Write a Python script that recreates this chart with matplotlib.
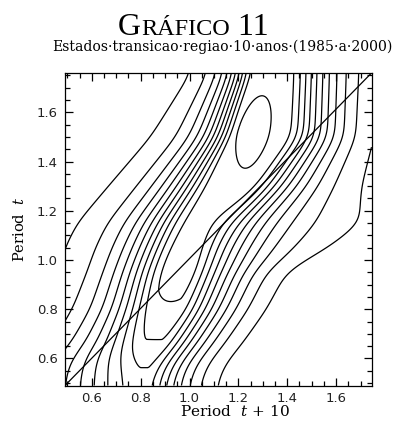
import numpy as np
import matplotlib
matplotlib.use("Agg")
import matplotlib.pyplot as plt
from matplotlib.ticker import MultipleLocator

plt.rcParams['mathtext.fontset'] = 'dejavuserif'

# density ridge, described by rows of "Period t"
ridge_y = [0.45, 0.574, 0.663, 0.80, 0.95, 1.05, 1.15, 1.30, 1.50, 1.80]
ridge_left = [0.79, 0.80, 0.82, 0.855, 0.89, 0.93, 0.98, 1.08, 1.19, 1.28]
ridge_right = [0.80, 0.83, 0.88, 0.95, 1.00, 1.03, 1.08, 1.24, 1.39, 1.41]
ridge_height = [8.4, 9.0, 9.95, 10.55, 10.6, 10.65, 10.85, 11.2, 11.45, 11.3]
shoulder_left = [0.32, 0.28, 0.21, 0.17, 0.16, 0.16, 0.16, 0.15, 0.12, 0.10]
shoulder_right = [0.15, 0.155, 0.165, 0.18, 0.20, 0.21, 0.215, 0.19, 0.17, 0.157]
base_left = [0.35, 0.35, 0.35, 0.33, 0.30, 0.31, 0.31, 0.29, 0.25, 0.17]
base_right = [0.18, 0.19, 0.20, 0.21, 0.22, 0.37, 0.44, 0.31, 0.22, 0.24]
base_height = 2.5

# local peaks on top of the ridge
peak_x = [0.975, 1.26]
peak_y = [0.97, 1.51]
peak_major = [0.13, 0.17]
peak_minor = [0.065, 0.06]
peak_angle = [62, 75]
peak_height = [0.9, 1.0]

levels = np.arange(1, 13)
xlim = (0.49, 1.745)
ylim = (0.49, 1.76)

gx = np.linspace(xlim[0], xlim[1], 260)
gy = np.linspace(ylim[0], ylim[1], 260)
X, Y = np.meshgrid(gx, gy)

# smooth the row profiles so the contours have no corners at the rows given above
kern = np.exp(-0.5 * (np.arange(-25, 26) * (gy[1] - gy[0]) / 0.035) ** 2)
kern /= kern.sum()


def by_row(vals):
    col = np.interp(gy, ridge_y, vals)
    col = np.convolve(np.pad(col, 25, mode='edge'), kern, mode='valid')
    return col[:, None] * np.ones_like(X)


a = by_row(ridge_left)
b = by_row(ridge_right)
left = X < a
d = np.clip(a - X, 0, None) + np.clip(X - b, 0, None)
s = np.where(left, by_row(shoulder_left), by_row(shoulder_right))
sb = np.where(left, by_row(base_left), by_row(base_right))
h = by_row(ridge_height)
Z = base_height * np.exp(-0.5 * (d / sb) ** 2) + (h - base_height) * np.exp(-(d / s) ** 1.5)

for px, py, sM, sm, ang, amp in zip(peak_x, peak_y, peak_major, peak_minor, peak_angle, peak_height):
    t = np.deg2rad(ang)
    u = (X - px) * np.cos(t) + (Y - py) * np.sin(t)
    v = -(X - px) * np.sin(t) + (Y - py) * np.cos(t)
    Z = Z + amp * np.exp(-0.5 * ((u / sM) ** 2 + (v / sm) ** 2))

fig = plt.figure(figsize=(3.94, 4.21), dpi=100)
ax = fig.add_axes([65 / 394, 35.5 / 421, 306.5 / 394, 312.5 / 421])

ax.contour(X, Y, Z, levels=levels, colors='black', linewidths=0.9)
ax.plot([0, 1], [0, 1], transform=ax.transAxes, color='black', linewidth=0.9)

ax.set_xlim(*xlim)
ax.set_ylim(*ylim)
for axis in (ax.xaxis, ax.yaxis):
    axis.set_major_locator(MultipleLocator(0.2))
    axis.set_minor_locator(MultipleLocator(0.05))
ax.tick_params(which='both', direction='in', top=True, right=True, width=0.9,
               labelsize=9.5, labelcolor='#222222', pad=5)
ax.tick_params(which='major', length=6)
ax.tick_params(which='minor', length=3.5)
for sp in ax.spines.values():
    sp.set_linewidth(0.9)

ax.set_xlabel(r'Period  $t\,+\,10$', family='DejaVu Serif', fontsize=11)
ax.set_ylabel(r'Period  $t$', family='DejaVu Serif', fontsize=10.5)
ax.xaxis.label.set_va('baseline')
ax.xaxis.set_label_coords(0.555, -(416 - 385.5) / 312.5)
ax.yaxis.set_label_coords(-0.125, 0.5)

# title in small caps, built from pieces
fig.canvas.draw()
r = fig.canvas.get_renderer()
x = 118 / 394
base_y = 1 - 35 / 421
for txt, size in [('G', 23), ('RÁFICO', 17.5), (' 11', 23)]:
    t = fig.text(x, base_y, txt, fontsize=size, family='Liberation Serif', va='baseline')
    bb = t.get_window_extent(r)
    x = bb.x1 / fig.bbox.width

fig.text(52 / 394, 1 - 51 / 421, 'Estados·transicao·regiao·10·anos·(1985·a·2000)',
         fontsize=10.1, family='DejaVu Serif', va='baseline')

fig.savefig('out.png', dpi=100)
